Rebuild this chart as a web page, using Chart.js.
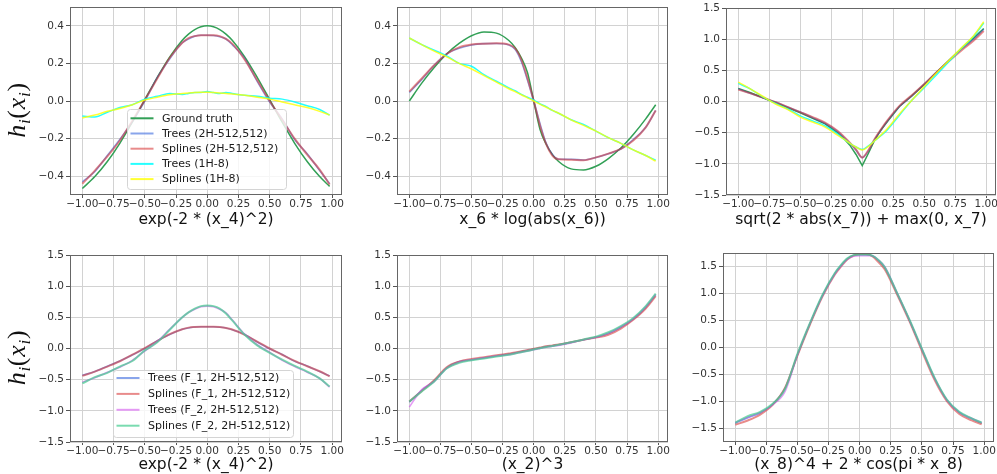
<!DOCTYPE html>
<html>
<head>
<meta charset="utf-8">
<script src="https://cdn.jsdelivr.net/npm/chart.js@4.4.1/dist/chart.umd.min.js"></script>
<style>
  html, body { margin: 0; padding: 0; background: #fff; }
  #wrap { position: relative; width: 997px; height: 474px; overflow: hidden; }
  .panel { position: absolute; }
</style>
</head>
<body>
<div id="wrap"></div>
<script>
// shared x positions of the sampled curves
const xs = [-1, -0.9, -0.8, -0.7, -0.6, -0.5, -0.4, -0.3, -0.2, -0.15, -0.1, -0.05, 0,
            0.05, 0.1, 0.15, 0.2, 0.3, 0.4, 0.5, 0.6, 0.7, 0.8, 0.9, 0.98];
const xTicks = [-1, -0.75, -0.5, -0.25, 0, 0.25, 0.5, 0.75, 1];
const yTicksSmall = [-0.4, -0.2, 0, 0.2, 0.4];
const yTicksBig = [-1.5, -1, -0.5, 0, 0.5, 1, 1.5];

// top left: exp(-2 * (x_4)^2)
const gt1      = [-0.465, -0.402, -0.322, -0.225, -0.113, 0.007, 0.126, 0.235, 0.323, 0.356, 0.38, 0.395, 0.4,
                  0.395, 0.38, 0.356, 0.323, 0.235, 0.126, 0.007, -0.113, -0.225, -0.322, -0.402, -0.454];
const trees1   = [-0.43, -0.375, -0.29, -0.205, -0.11, 0.0, 0.125, 0.225, 0.31, 0.33, 0.345, 0.35, 0.35,
                  0.348, 0.342, 0.33, 0.3, 0.225, 0.105, -0.005, -0.095, -0.205, -0.28, -0.37, -0.44];
const splines1 = [-0.44, -0.37, -0.295, -0.21, -0.105, 0.005, 0.12, 0.23, 0.31, 0.335, 0.345, 0.35, 0.35,
                  0.35, 0.345, 0.33, 0.305, 0.22, 0.11, 0.0, -0.1, -0.2, -0.285, -0.365, -0.445];
const trees1s  = [-0.08, -0.085, -0.06, -0.035, -0.02, 0.01, 0.025, 0.04, 0.035, 0.04, 0.045, 0.045, 0.05,
                  0.045, 0.04, 0.045, 0.04, 0.03, 0.025, 0.015, 0.01, -0.005, -0.025, -0.045, -0.075];
const splines1s = [-0.09, -0.075, -0.055, -0.04, -0.02, 0.005, 0.02, 0.033, 0.04, 0.043, 0.045, 0.046, 0.046,
                   0.045, 0.043, 0.04, 0.037, 0.03, 0.02, 0.01, -0.005, -0.02, -0.035, -0.055, -0.075];

// top middle: x_6 * log(abs(x_6))
const gt2      = [0.0, 0.095, 0.178, 0.25, 0.306, 0.347, 0.367, 0.361, 0.322, 0.285, 0.23, 0.15, 0.0,
                  -0.15, -0.23, -0.285, -0.322, -0.361, -0.367, -0.347, -0.306, -0.25, -0.178, -0.095, -0.02];
const trees2   = [0.045, 0.115, 0.19, 0.25, 0.28, 0.298, 0.305, 0.306, 0.298, 0.275, 0.21, 0.11, 0.0,
                  -0.12, -0.225, -0.285, -0.31, -0.31, -0.314, -0.3, -0.28, -0.255, -0.205, -0.14, -0.05];
const splines2 = [0.05, 0.12, 0.19, 0.25, 0.285, 0.3, 0.305, 0.307, 0.3, 0.28, 0.22, 0.12, 0.0,
                  -0.13, -0.23, -0.29, -0.31, -0.312, -0.315, -0.3, -0.28, -0.255, -0.21, -0.14, -0.05];
const trees2s  = [0.335, 0.3, 0.27, 0.24, 0.2, 0.185, 0.14, 0.105, 0.07, 0.055, 0.035, 0.02, 0.005,
                  -0.015, -0.03, -0.05, -0.065, -0.1, -0.125, -0.16, -0.195, -0.225, -0.26, -0.29, -0.315];
const splines2s = [0.335, 0.3, 0.265, 0.235, 0.2, 0.17, 0.135, 0.1, 0.065, 0.05, 0.033, 0.017, 0.0,
                   -0.017, -0.033, -0.05, -0.065, -0.1, -0.13, -0.16, -0.195, -0.225, -0.26, -0.29, -0.32];

// top right: sqrt(2 * abs(x_7)) + max(0, x_7)
const gt3      = [0.21, 0.14, 0.06, -0.02, -0.1, -0.18, -0.27, -0.36, -0.5, -0.59, -0.7, -0.85, -1.03,
                  -0.83, -0.62, -0.46, -0.33, -0.08, 0.09, 0.27, 0.47, 0.66, 0.85, 1.02, 1.17];
const trees3   = [0.2, 0.13, 0.06, -0.01, -0.09, -0.17, -0.26, -0.35, -0.48, -0.57, -0.67, -0.78, -0.9,
                  -0.79, -0.61, -0.46, -0.32, -0.08, 0.09, 0.28, 0.47, 0.66, 0.84, 1.0, 1.16];
const splines3 = [0.19, 0.13, 0.06, -0.01, -0.09, -0.17, -0.25, -0.34, -0.47, -0.56, -0.66, -0.77, -0.9,
                  -0.78, -0.6, -0.45, -0.31, -0.07, 0.1, 0.28, 0.47, 0.65, 0.82, 0.98, 1.13];
const trees3s  = [0.29, 0.2, 0.07, -0.03, -0.12, -0.23, -0.31, -0.39, -0.52, -0.6, -0.67, -0.73, -0.77,
                  -0.71, -0.63, -0.55, -0.46, -0.22, 0.02, 0.22, 0.43, 0.64, 0.85, 1.05, 1.26];
const splines3s = [0.31, 0.2, 0.08, -0.04, -0.13, -0.25, -0.33, -0.41, -0.54, -0.6, -0.67, -0.73, -0.78,
                   -0.72, -0.63, -0.54, -0.44, -0.2, 0.02, 0.24, 0.46, 0.66, 0.86, 1.06, 1.28];

// bottom left: exp(-2 * (x_4)^2), two feature nets
const treesF1a   = [-0.43, -0.37, -0.285, -0.2, -0.105, 0.0, 0.125, 0.225, 0.31, 0.33, 0.345, 0.35, 0.35,
                    0.348, 0.342, 0.33, 0.3, 0.225, 0.105, -0.005, -0.095, -0.205, -0.28, -0.37, -0.44];
const splinesF1a = [-0.44, -0.37, -0.29, -0.205, -0.1, 0.005, 0.12, 0.23, 0.31, 0.335, 0.345, 0.35, 0.35,
                    0.35, 0.345, 0.33, 0.305, 0.22, 0.11, 0.0, -0.1, -0.2, -0.285, -0.365, -0.445];
const treesF2a   = [-0.54, -0.47, -0.38, -0.3, -0.19, -0.04, 0.11, 0.31, 0.5, 0.58, 0.63, 0.67, 0.68,
                    0.67, 0.63, 0.57, 0.46, 0.23, 0.06, -0.06, -0.19, -0.29, -0.38, -0.48, -0.62];
const splinesF2a = [-0.56, -0.46, -0.39, -0.29, -0.2, -0.03, 0.1, 0.3, 0.5, 0.58, 0.64, 0.68, 0.69,
                    0.68, 0.64, 0.56, 0.45, 0.22, 0.05, -0.07, -0.18, -0.28, -0.37, -0.48, -0.61];

// bottom middle: (x_2)^3
const treesF1b   = [-0.86, -0.67, -0.52, -0.31, -0.21, -0.18, -0.15, -0.12, -0.09, -0.07, -0.05, -0.03, -0.01,
                    0.01, 0.03, 0.045, 0.06, 0.1, 0.14, 0.18, 0.24, 0.34, 0.47, 0.66, 0.86];
const splinesF1b = [-0.85, -0.68, -0.51, -0.3, -0.21, -0.17, -0.14, -0.11, -0.08, -0.065, -0.045, -0.025, -0.005,
                    0.015, 0.035, 0.05, 0.065, 0.1, 0.14, 0.175, 0.22, 0.32, 0.46, 0.64, 0.84];
const treesF2b   = [-0.94, -0.66, -0.53, -0.32, -0.22, -0.18, -0.15, -0.12, -0.1, -0.08, -0.06, -0.04, -0.02,
                    0.0, 0.02, 0.035, 0.05, 0.09, 0.14, 0.18, 0.25, 0.35, 0.48, 0.67, 0.87];
const splinesF2b = [-0.85, -0.69, -0.53, -0.32, -0.23, -0.19, -0.16, -0.13, -0.1, -0.08, -0.06, -0.04, -0.015,
                    0.005, 0.025, 0.04, 0.06, 0.1, 0.145, 0.19, 0.26, 0.36, 0.49, 0.68, 0.88];

// bottom right: (x_8)^4 + 2 * cos(pi * x_8)
const treesF1c   = [-1.41, -1.31, -1.22, -1.06, -0.76, -0.14, 0.44, 0.96, 1.37, 1.52, 1.64, 1.71, 1.72,
                    1.72, 1.7, 1.61, 1.48, 1.0, 0.5, -0.04, -0.57, -0.98, -1.21, -1.33, -1.41];
const splinesF1c = [-1.44, -1.36, -1.25, -1.07, -0.75, -0.15, 0.42, 0.94, 1.35, 1.5, 1.63, 1.7, 1.73,
                    1.73, 1.69, 1.58, 1.45, 0.98, 0.48, -0.07, -0.6, -1.0, -1.24, -1.36, -1.43];
const treesF2c   = [-1.4, -1.3, -1.21, -1.07, -0.82, -0.14, 0.44, 0.95, 1.36, 1.51, 1.63, 1.69, 1.7,
                    1.7, 1.7, 1.62, 1.5, 1.01, 0.5, -0.04, -0.57, -0.98, -1.21, -1.32, -1.4];
const splinesF2c = [-1.4, -1.28, -1.2, -1.05, -0.77, -0.12, 0.45, 0.97, 1.38, 1.53, 1.65, 1.71, 1.72,
                    1.72, 1.7, 1.62, 1.49, 1.01, 0.51, -0.03, -0.56, -0.97, -1.2, -1.32, -1.4];

const COL = {
  truth: 'rgb(50,160,86)',
  trees: 'rgba(20,75,215,0.5)',
  splines: 'rgba(215,55,55,0.58)',
  trees1h: 'rgba(0,255,255,0.85)',
  splines1h: 'rgba(255,255,0,0.8)',
  treesF2: 'rgba(205,70,235,0.55)',
  splinesF2: 'rgba(70,205,145,0.72)'
};

const AXIS_W = 70, AXIS_H = 45, PAD_T = 12, PAD_R = 24;
Chart.defaults.font.family = '"DejaVu Sans", sans-serif';
Chart.defaults.animation = false;

const fmt = (v, d) => (v < 0 ? '\u2212' : '') + Math.abs(v).toFixed(d);

function framePlugin() {
  return {
    id: 'frame',
    afterDatasetsDraw(chart) {
      const { ctx, chartArea: a } = chart;
      ctx.save();
      ctx.strokeStyle = '#666';
      ctx.lineWidth = 1;
      ctx.strokeRect(Math.round(a.left) + 0.5, Math.round(a.top) + 0.5,
                     Math.round(a.right - a.left) - 1, Math.round(a.bottom - a.top) - 1);
      ctx.restore();
    }
  };
}

function legendPlugin(lg) {
  return {
    id: 'mplLegend',
    afterDraw(chart) {
      const { ctx, chartArea: a } = chart;
      const x = a.left + lg.dx, y = a.top + lg.dy;
      ctx.save();
      ctx.beginPath();
      ctx.roundRect(x + 0.5, y + 0.5, lg.w, lg.h, 3);
      ctx.fillStyle = 'rgba(255,255,255,0.8)';
      ctx.fill();
      ctx.strokeStyle = '#d4d4d4';
      ctx.lineWidth = 1;
      ctx.stroke();
      ctx.font = '11px "DejaVu Sans"';
      ctx.textBaseline = 'middle';
      chart.data.datasets.forEach((ds, i) => {
        const ry = y + lg.first + i * lg.gap;
        ctx.beginPath();
        ctx.moveTo(x + 3.5, ry);
        ctx.lineTo(x + 26.5, ry);
        ctx.strokeStyle = ds.borderColor;
        ctx.lineWidth = 2;
        ctx.stroke();
        ctx.fillStyle = '#1a1a1a';
        ctx.fillText(ds.label, x + 35, ry + 0.5);
      });
      ctx.restore();
    }
  };
}

// h_i(x_i) drawn with real subscripts, rotated like a y label
function yLabelPlugin() {
  return {
    id: 'ylab',
    afterDraw(chart) {
      const { ctx, chartArea: a } = chart;
      const parts = [['h', 26, 0, true], ['i', 17, 5, true], ['(', 26, 0, false],
                     ['x', 26, 0, true], ['i', 17, 5, true], [')', 26, 0, false]];
      const font = p => (p[3] ? 'italic ' : '') + p[1] + 'px "Liberation Serif"';
      ctx.save();
      let total = 0;
      parts.forEach(p => { ctx.font = font(p); total += ctx.measureText(p[0]).width + 0.7; });
      ctx.translate(25, (a.top + a.bottom) / 2 + 9);
      ctx.rotate(-Math.PI / 2);
      ctx.fillStyle = '#111';
      ctx.textBaseline = 'alphabetic';
      let cx = -total / 2;
      parts.forEach(p => {
        ctx.font = font(p);
        ctx.fillText(p[0], cx, p[2]);
        cx += ctx.measureText(p[0]).width + 0.7;
      });
      ctx.restore();
    }
  };
}

const panels = [
  { area: [70, 7, 342, 195], yMin: -0.5, yMax: 0.5, yTicks: yTicksSmall, title: 'exp(-2 * (x_4)^2)', tpad: 11, ylab: true,
    legend: { dx: 57, dy: 102, w: 159, h: 80, first: 9.3, gap: 15.2 },
    series: [
      { label: 'Ground truth', data: gt1, color: COL.truth, width: 1.5 },
      { label: 'Trees (2H-512,512)', data: trees1, color: COL.trees, width: 1.6 },
      { label: 'Splines (2H-512,512)', data: splines1, color: COL.splines, width: 2 },
      { label: 'Trees (1H-8)', data: trees1s, color: COL.trees1h, width: 1.5 },
      { label: 'Splines (1H-8)', data: splines1s, color: COL.splines1h, width: 1.5 }
    ] },
  { area: [397, 7, 668, 195], yMin: -0.5, yMax: 0.5, yTicks: yTicksSmall, title: 'x_6 * log(abs(x_6))', tpad: 11,
    series: [
      { label: 'Ground truth', data: gt2, color: COL.truth, width: 1.5 },
      { label: 'Trees (2H-512,512)', data: trees2, color: COL.trees, width: 1.6 },
      { label: 'Splines (2H-512,512)', data: splines2, color: COL.splines, width: 2 },
      { label: 'Trees (1H-8)', data: trees2s, color: COL.trees1h, width: 1.5 },
      { label: 'Splines (1H-8)', data: splines2s, color: COL.splines1h, width: 1.5 }
    ] },
  { area: [726, 8, 996, 195], yMin: -1.5, yMax: 1.5, yTicks: yTicksBig, title: 'sqrt(2 * abs(x_7)) + max(0, x_7)', tpad: 11,
    series: [
      { label: 'Ground truth', data: gt3, color: COL.truth, width: 1.5, straight: true },
      { label: 'Trees (2H-512,512)', data: trees3, color: COL.trees, width: 1.6 },
      { label: 'Splines (2H-512,512)', data: splines3, color: COL.splines, width: 2 },
      { label: 'Trees (1H-8)', data: trees3s, color: COL.trees1h, width: 1.5 },
      { label: 'Splines (1H-8)', data: splines3s, color: COL.splines1h, width: 1.5 }
    ] },
  { area: [70, 255, 342, 442], yMin: -1.5, yMax: 1.5, yTicks: yTicksBig, title: 'exp(-2 * (x_4)^2)', tpad: 13, ylab: true,
    legend: { dx: 43, dy: 115, w: 180, h: 67, first: 8, gap: 15.9 },
    series: [
      { label: 'Trees (F_1, 2H-512,512)', data: treesF1a, color: COL.trees, width: 1.6 },
      { label: 'Splines (F_1, 2H-512,512)', data: splinesF1a, color: COL.splines, width: 2 },
      { label: 'Trees (F_2, 2H-512,512)', data: treesF2a, color: COL.treesF2, width: 1.6 },
      { label: 'Splines (F_2, 2H-512,512)', data: splinesF2a, color: COL.splinesF2, width: 2 }
    ] },
  { area: [397, 255, 668, 442], yMin: -1.5, yMax: 1.5, yTicks: yTicksBig, title: '(x_2)^3', tpad: 13,
    series: [
      { label: 'Trees (F_1, 2H-512,512)', data: treesF1b, color: COL.trees, width: 1.6 },
      { label: 'Splines (F_1, 2H-512,512)', data: splinesF1b, color: COL.splines, width: 2 },
      { label: 'Trees (F_2, 2H-512,512)', data: treesF2b, color: COL.treesF2, width: 1.6 },
      { label: 'Splines (F_2, 2H-512,512)', data: splinesF2b, color: COL.splinesF2, width: 2 }
    ] },
  { area: [723, 253, 994, 442], yMin: -1.76, yMax: 1.75, yTicks: yTicksBig, title: '(x_8)^4 + 2 * cos(pi * x_8)', tpad: 13,
    series: [
      { label: 'Trees (F_1, 2H-512,512)', data: treesF1c, color: COL.trees, width: 1.6 },
      { label: 'Splines (F_1, 2H-512,512)', data: splinesF1c, color: COL.splines, width: 2 },
      { label: 'Trees (F_2, 2H-512,512)', data: treesF2c, color: COL.treesF2, width: 1.6 },
      { label: 'Splines (F_2, 2H-512,512)', data: splinesF2c, color: COL.splinesF2, width: 2 }
    ] }
];

const wrap = document.getElementById('wrap');

panels.forEach(p => {
  const [l, t, r, b] = p.area;
  const W = (r - l) + AXIS_W + PAD_R, H = (b - t) + PAD_T + AXIS_H;
  const div = document.createElement('div');
  div.className = 'panel';
  div.style.left = (l - AXIS_W) + 'px';
  div.style.top = (t - PAD_T) + 'px';
  const canvas = document.createElement('canvas');
  canvas.width = W; canvas.height = H;
  canvas.style.width = W + 'px'; canvas.style.height = H + 'px';
  div.appendChild(canvas);
  wrap.appendChild(div);

  const n = p.series.length;
  const datasets = p.series.map((s, i) => ({
    label: s.label,
    data: xs.map((x, k) => ({ x: x, y: s.data[k] })),
    borderColor: s.color,
    borderWidth: s.width,
    pointRadius: 0,
    fill: false,
    tension: s.straight ? 0 : 0.4,
    cubicInterpolationMode: s.straight ? 'default' : 'monotone',
    order: n - 1 - i
  }));

  const plugins = [framePlugin()];
  if (p.legend) plugins.push(legendPlugin(p.legend));
  if (p.ylab) plugins.push(yLabelPlugin());

  new Chart(canvas, {
    type: 'line',
    data: { datasets },
    plugins,
    options: {
      responsive: false,
      devicePixelRatio: 1,
      layout: { padding: { top: PAD_T, right: PAD_R, left: 0, bottom: 0 } },
      plugins: { legend: { display: false }, tooltip: { enabled: false } },
      scales: {
        x: {
          type: 'linear',
          min: -1.099, max: 1.079,
          afterBuildTicks: s => { s.ticks = xTicks.map(v => ({ value: v })); },
          afterFit: s => { s.height = AXIS_H; s.paddingLeft = 0; s.paddingRight = 0; },
          grid: { color: '#d2d2d2', lineWidth: 1, tickColor: '#555', tickLength: 3 },
          border: { display: false },
          ticks: { autoSkip: false, maxRotation: 0, minRotation: 0, padding: 0,
                   color: '#333', font: { size: 10.5 }, callback: v => fmt(v, 2) },
          title: { display: true, text: p.title, color: '#111', font: { size: 15.5 },
                   padding: { top: 0, bottom: p.tpad } }
        },
        y: {
          type: 'linear',
          min: p.yMin, max: p.yMax,
          afterBuildTicks: s => { s.ticks = p.yTicks.map(v => ({ value: v })); },
          afterFit: s => { s.width = AXIS_W; s.paddingTop = 0; s.paddingBottom = 0; },
          grid: { color: '#d2d2d2', lineWidth: 1, tickColor: '#555', tickLength: 4 },
          border: { display: false },
          ticks: { padding: 2, color: '#333', font: { size: 10.5 }, callback: v => fmt(v, 1) }
        }
      }
    }
  });
});
</script>
</body>
</html>
